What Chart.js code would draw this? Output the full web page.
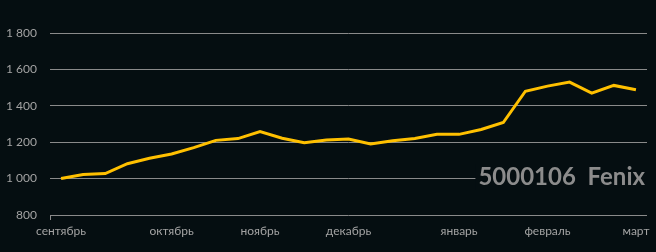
<!DOCTYPE html>
<html>
<head>
<meta charset="utf-8">
<script src="https://cdn.jsdelivr.net/npm/chart.js@4"></script>
<style>
  html, body { margin: 0; padding: 0; background: #050e11; }
  #wrap { width: 656px; height: 252px; }
</style>
</head>
<body>
<div id="wrap"><canvas id="chart" width="656" height="252"></canvas></div>
<script>
// weekly points, only month starts get a label
const labels = ['сентябрь', '', '', '', '', 'октябрь', '', '', '', 'ноябрь', '', '', '',
  'декабрь', '', '', '', '', 'январь', '', '', '', 'февраль', '', '', '', 'март'];
const values = [1000, 1022, 1028, 1082, 1112, 1135, 1170, 1210, 1220, 1258, 1222, 1197, 1212,
  1218, 1190, 1208, 1220, 1243, 1243, 1270, 1308, 1480, 1508, 1530, 1470, 1512, 1488];
const yTicks = [800, 1000, 1200, 1400, 1600, 1800];
const title = '5000106  Fenix';

const bg = '#050e11';
const gridColor = '#8a8a8a';
const textColor = '#a3a3a3';

// caption in the lower right, covering the grid line behind it
const captionPlugin = {
    id: 'caption',
    afterDraw: function(chart) {
        const ctx = chart.ctx;
        const area = chart.chartArea;
        ctx.save();
        ctx.font = 'bold 24px Lato';
        const w = ctx.measureText(title).width;
        const right = area.right - 2;
        ctx.fillStyle = bg;
        ctx.fillRect(right - w - 3, 164, w + 5, 26);
        ctx.fillStyle = '#8c8c8c';
        ctx.textAlign = 'right';
        ctx.textBaseline = 'alphabetic';
        ctx.fillText(title, right, 185);
        ctx.restore();
    }
};

const ctx = document.getElementById('chart').getContext('2d');
new Chart(ctx, {
    type: 'line',
    data: {
        labels: labels,
        datasets: [{
            data: values,
            borderColor: '#ffc000',
            borderWidth: 3,
            pointRadius: 0,
            tension: 0,
            fill: false
        }]
    },
    options: {
        responsive: false,
        animation: false,
        layout: { padding: { top: 33, right: 9, left: 0, bottom: 0 } },
        plugins: { legend: { display: false }, tooltip: { enabled: false } },
        scales: {
            x: {
                offset: true,
                border: { display: false },
                grid: {
                    offset: true,
                    drawOnChartArea: false,
                    tickLength: 5,
                    color: function(c) { return c.index === 0 ? gridColor : 'rgba(0,0,0,0)'; }
                },
                ticks: {
                    autoSkip: false,
                    maxRotation: 0,
                    padding: 4,
                    color: textColor,
                    font: { family: 'Lato', size: 12 }
                },
                afterFit: function(scale) { scale.height = 37; }
            },
            y: {
                min: 800,
                max: 1800,
                afterBuildTicks: function(scale) {
                    scale.ticks = yTicks.map(function(v) { return { value: v }; });
                },
                border: { display: false },
                grid: { color: gridColor, lineWidth: 1, drawTicks: false },
                ticks: {
                    padding: 13,
                    color: textColor,
                    font: { family: 'Lato', size: 12 },
                    callback: function(v) {
                        return v >= 1000 ? Math.floor(v / 1000) + ' ' + String(v % 1000).padStart(3, '0') : String(v);
                    }
                },
                afterFit: function(scale) { scale.width = 50; }
            }
        }
    },
    plugins: [captionPlugin]
});
</script>
</body>
</html>
